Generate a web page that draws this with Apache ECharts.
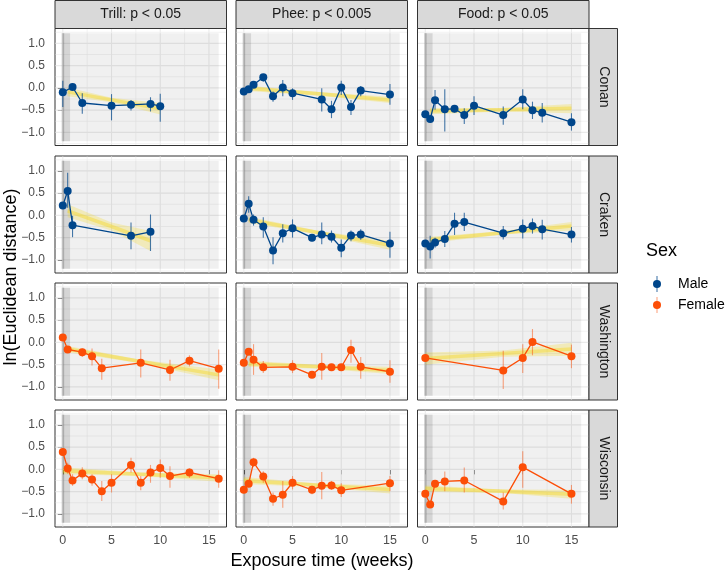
<!DOCTYPE html>
<html><head><meta charset="utf-8">
<script src="https://cdn.jsdelivr.net/npm/echarts@6/dist/echarts.min.js"></script>
<style>html,body{margin:0;padding:0;background:#fff}#chart{width:727px;height:572px}</style>
</head><body><div id="chart"></div>
<script>
// ---------- categories & ticks ----------
const behaviours = ['Trill: p < 0.05', 'Phee: p < 0.005', 'Food: p < 0.05'];
const individuals = ['Conan', 'Craken', 'Washington', 'Wisconsin'];
const individualSex = ['Male', 'Male', 'Female', 'Female'];
const sexLevels = ['Male', 'Female'];
const xTicks = [0, 5, 10, 15];
const xMinorTicks = [2.5, 7.5, 12.5];
const yTicks = [-1, -0.5, 0, 0.5, 1];
const yMinorTicks = [-1.25, -0.75, -0.25, 0.25, 0.75, 1.25];
const exposureWindow = [0, 16, -1.2, 1.23];   // x0, x1, y0, y1 (shaded study period)
const baselineWindow = [0, 0.75];             // baseline band

// ---------- points: [week, mean, lower, upper] ----------
const trillConan = [[0,-0.10,-0.43,0.16],[1,0.02,-0.03,0.06],[2,-0.34,-0.58,-0.12],[5,-0.40,-0.73,-0.14],[7,-0.38,-0.51,-0.27],[9,-0.36,-0.53,-0.21],[10,-0.41,-0.76,-0.13]];
const pheeConan = [[0,-0.08,-0.13,-0.03],[0.5,-0.03,-0.08,0.02],[1,0.07,0.02,0.12],[2,0.24,0.14,0.31],[3,-0.19,-0.31,-0.08],[4,0.01,-0.19,0.18],[5,-0.12,-0.27,-0.01],[8,-0.26,-0.53,-0.01],[9,-0.48,-0.68,-0.29],[10,0.01,-0.16,0.16],[11,-0.43,-0.61,-0.27],[12,-0.06,-0.19,0.04],[15,-0.15,-0.38,0.09]];
const foodConan = [[0,-0.59,-0.64,-0.54],[0.5,-0.70,-0.75,-0.65],[1,-0.28,-0.49,-0.05],[2,-0.48,-0.98,-0.03],[3,-0.47,-0.55,-0.40],[4,-0.61,-0.81,-0.46],[5,-0.40,-0.61,-0.19],[8,-0.61,-0.83,-0.42],[10,-0.26,-0.48,-0.03],[11,-0.50,-0.70,-0.31],[12,-0.56,-0.78,-0.34],[15,-0.77,-0.96,-0.57]];
const trillCraken = [[0,0.22,0.17,0.27],[0.5,0.55,0.17,0.96],[1,-0.22,-0.49,-0.01],[7,-0.46,-0.76,-0.16],[9,-0.37,-0.80,0.02]];
const pheeCraken = [[0,-0.07,-0.12,-0.02],[0.5,0.26,0.06,0.43],[1,-0.10,-0.23,0.02],[2,-0.25,-0.50,-0.04],[3,-0.79,-1.10,-0.49],[4,-0.40,-0.61,-0.20],[5,-0.29,-0.50,-0.09],[7,-0.50,-0.58,-0.43],[8,-0.43,-0.65,-0.16],[9,-0.48,-0.61,-0.34],[10,-0.73,-0.94,-0.54],[11,-0.45,-0.58,-0.34],[12,-0.43,-0.55,-0.31],[15,-0.63,-0.95,-0.37]];
const foodCraken = [[0,-0.63,-0.68,-0.58],[0.5,-0.70,-0.97,-0.46],[1,-0.61,-0.73,-0.50],[2,-0.53,-0.71,-0.35],[3,-0.19,-0.44,0.06],[4,-0.15,-0.35,0.06],[8,-0.40,-0.54,-0.24],[10,-0.30,-0.52,-0.09],[11,-0.24,-0.41,-0.07],[12,-0.31,-0.54,-0.10],[15,-0.43,-0.61,-0.26]];
const trillWashington = [[0,0.11,0.06,0.16],[0.5,-0.16,-0.21,-0.11],[2,-0.22,-0.33,-0.14],[3,-0.31,-0.52,-0.14],[4,-0.58,-0.84,-0.37],[8,-0.46,-0.79,-0.16],[11,-0.62,-0.86,-0.39],[13,-0.41,-0.54,-0.29],[16,-0.59,-1.04,-0.16]];
const pheeWashington = [[0,-0.46,-0.51,-0.41],[0.5,-0.21,-0.26,-0.16],[1,-0.39,-0.73,-0.04],[2,-0.56,-0.69,-0.42],[5,-0.55,-0.69,-0.40],[7,-0.73,-0.80,-0.66],[8,-0.55,-0.84,-0.24],[9,-0.56,-0.61,-0.51],[10,-0.56,-0.61,-0.51],[11,-0.17,-0.46,0.06],[12,-0.55,-0.82,-0.33],[15,-0.66,-0.91,-0.40]];
const foodWashington = [[0,-0.35,-0.40,-0.30],[8,-0.63,-1.05,-0.19],[10,-0.35,-0.69,-0.04],[11,0.01,-0.29,0.30],[15,-0.31,-0.58,-0.05]];
const trillWisconsin = [[0,0.39,0.34,0.44],[0.5,0.02,-0.10,0.15],[1,-0.25,-0.37,-0.11],[2,-0.09,-0.22,0.05],[3,-0.23,-0.37,-0.11],[4,-0.49,-0.71,-0.26],[5,-0.30,-0.52,-0.11],[7,0.10,-0.07,0.26],[8,-0.30,-0.47,-0.15],[9,-0.07,-0.30,0.10],[10,0.03,-0.19,0.22],[11,-0.15,-0.41,0.07],[13,-0.07,-0.19,0.02],[16,-0.21,-0.41,-0.02]];
const pheeWisconsin = [[0,-0.46,-0.51,-0.41],[0.5,-0.32,-0.37,-0.27],[1,0.16,0.05,0.26],[2,-0.16,-0.30,-0.04],[3,-0.66,-0.82,-0.52],[4,-0.57,-0.86,-0.26],[5,-0.30,-0.45,-0.15],[7,-0.46,-0.56,-0.37],[8,-0.37,-0.67,-0.06],[9,-0.36,-0.46,-0.26],[10,-0.47,-0.62,-0.31],[15,-0.31,-0.49,-0.15]];
const foodWisconsin = [[0,-0.55,-0.60,-0.50],[0.5,-0.79,-0.84,-0.74],[1,-0.32,-0.40,-0.24],[2,-0.27,-0.49,-0.05],[4,-0.25,-0.52,0.04],[8,-0.72,-0.90,-0.52],[10,0.05,-0.41,0.41],[15,-0.55,-0.77,-0.35]];

// ---------- linear fits: [week, fit, lower, upper] ----------
const trillConanFit = [[0.5,-0.09,-0.19,0.01],[5,-0.27,-0.32,-0.22],[10,-0.47,-0.60,-0.34]];
const pheeConanFit = [[0.5,-0.01,-0.07,0.05],[8,-0.14,-0.18,-0.10],[15,-0.27,-0.34,-0.20]];
const foodConanFit = [[0.5,-0.52,-0.59,-0.45],[8,-0.49,-0.53,-0.45],[15,-0.46,-0.57,-0.36]];
const trillCrakenFit = [[0.5,0.10,-0.04,0.25],[5,-0.25,-0.34,-0.16],[9,-0.57,-0.80,-0.35]];
const pheeCrakenFit = [[0.5,-0.10,-0.17,-0.03],[8,-0.40,-0.44,-0.36],[15,-0.67,-0.77,-0.57]];
const foodCrakenFit = [[0.5,-0.55,-0.62,-0.48],[8,-0.39,-0.43,-0.35],[15,-0.24,-0.34,-0.15]];
const trillWashingtonFit = [[0.5,-0.15,-0.22,-0.08],[8,-0.43,-0.47,-0.39],[16,-0.73,-0.85,-0.61]];
const pheeWashingtonFit = [[0.5,-0.48,-0.55,-0.41],[8,-0.55,-0.59,-0.51],[15,-0.63,-0.71,-0.55]];
const foodWashingtonFit = [[0,-0.36,-0.50,-0.23],[8,-0.25,-0.32,-0.18],[15,-0.15,-0.30,-0.01]];
const trillWisconsinFit = [[0,-0.03,-0.11,0.05],[8,-0.11,-0.15,-0.07],[16,-0.19,-0.28,-0.11]];
const pheeWisconsinFit = [[0,-0.25,-0.33,-0.17],[8,-0.36,-0.40,-0.32],[15,-0.45,-0.54,-0.36]];
const foodWisconsinFit = [[0,-0.43,-0.50,-0.36],[8,-0.49,-0.53,-0.45],[15,-0.56,-0.66,-0.46]];

const panelPoints = [
  [trillConan, pheeConan, foodConan],
  [trillCraken, pheeCraken, foodCraken],
  [trillWashington, pheeWashington, foodWashington],
  [trillWisconsin, pheeWisconsin, foodWisconsin]
];
const panelFits = [
  [trillConanFit, pheeConanFit, foodConanFit],
  [trillCrakenFit, pheeCrakenFit, foodCrakenFit],
  [trillWashingtonFit, pheeWashingtonFit, foodWashingtonFit],
  [trillWisconsinFit, pheeWisconsinFit, foodWisconsinFit]
];

// ---------- styling / layout ----------
const FONT = '"Liberation Sans", Arial, Helvetica, sans-serif';
const sexColor = { Male: '#00468B', Female: '#FC4E07' };
const sexBarColor = { Male: 'rgba(0,70,139,0.72)', Female: 'rgba(252,78,7,0.5)' };
const colLeft = [55, 236, 417.5];
const colWidth = 171.5;
const rowTop = [28.5, 156, 283, 410];
const rowHeight = 117;
const X_MIN = -0.8, X_MAX = 16.8, Y_MIN = -1.295, Y_MAX = 1.335;

function fmtY(v) { return (v < 0 ? '\u2212' : '') + Math.abs(v).toFixed(1); }

function bgRender(params, api) {
  if (params.dataIndex !== 0) return null;
  const cs = params.coordSys;
  const T = cs.y + 0.5, B = cs.y + cs.height - 0.5, L = cs.x + 0.5, R = cs.x + cs.width - 0.5;
  const ch = [];
  const vline = (v, w) => { const p = api.coord([v, 0]); ch.push({ type: 'line', shape: { x1: p[0], y1: T, x2: p[0], y2: B }, style: { stroke: '#ebebeb', lineWidth: w } }); };
  const hline = (v, w) => { const p = api.coord([0, v]); ch.push({ type: 'line', shape: { x1: L, y1: p[1], x2: R, y2: p[1] }, style: { stroke: '#ebebeb', lineWidth: w } }); };
  xMinorTicks.forEach(v => vline(v, 0.6));
  yMinorTicks.forEach(v => hline(v, 0.6));
  xTicks.forEach(v => vline(v, 1.1));
  yTicks.forEach(v => hline(v, 1.1));
  const a = api.coord([exposureWindow[0], exposureWindow[3]]);
  const b = api.coord([exposureWindow[1], exposureWindow[2]]);
  ch.push({ type: 'rect', shape: { x: a[0], y: a[1], width: b[0] - a[0], height: b[1] - a[1] }, style: { fill: 'rgba(0,0,0,0.06)' } });
  const c = api.coord([baselineWindow[0], exposureWindow[3]]);
  const d = api.coord([baselineWindow[1], exposureWindow[2]]);
  ch.push({ type: 'rect', shape: { x: c[0], y: c[1], width: d[0] - c[0], height: d[1] - c[1] }, style: { fill: 'rgba(0,0,0,0.11)' } });
  ch.push({ type: 'rect', shape: { x: c[0] - 1.2, y: c[1], width: 2.6, height: d[1] - c[1] }, style: { fill: 'rgba(0,0,0,0.17)' } });
  return { type: 'group', children: ch };
}

function makeFitRender(fit) {
  return function (params, api) {
    if (params.dataIndex !== 0) return null;
    const upper = fit.map(r => api.coord([r[0], r[3]]));
    const lower = fit.map(r => api.coord([r[0], r[2]])).reverse();
    const mid = fit.map(r => api.coord([r[0], r[1]]));
    return {
      type: 'group', children: [
        { type: 'polygon', shape: { points: upper.concat(lower) }, style: { fill: 'rgba(245,215,30,0.26)' } },
        { type: 'polyline', shape: { points: mid }, style: { stroke: 'rgba(245,215,30,0.42)', lineWidth: 3.5, fill: null } }
      ]
    };
  };
}

function makeBarRender(color) {
  return function (params, api) {
    const lo = api.coord([api.value(0), api.value(2)]);
    const hi = api.coord([api.value(0), api.value(3)]);
    return { type: 'line', shape: { x1: lo[0], y1: lo[1], x2: hi[0], y2: hi[1] }, style: { stroke: color, lineWidth: 1.1 } };
  };
}

const option = {
  animation: false,
  backgroundColor: '#ffffff',
  textStyle: { fontFamily: FONT },
  grid: [], xAxis: [], yAxis: [], series: [], graphic: []
};

for (let r = 0; r < individuals.length; r++) {
  for (let c = 0; c < behaviours.length; c++) {
    const i = r * behaviours.length + c;
    const sex = individualSex[r];
    const pts = panelPoints[r][c];
    const fit = panelFits[r][c];
    option.grid.push({ left: colLeft[c], top: rowTop[r], width: colWidth, height: rowHeight, show: true, borderColor: '#333333', borderWidth: 1, backgroundColor: '#ffffff' });
    const bottom = r === individuals.length - 1;
    const left = c === 0;
    option.xAxis.push({
      type: 'value', gridIndex: i, min: X_MIN, max: X_MAX,
      axisLine: { show: false }, splitLine: { show: false },
      axisTick: { show: bottom, customValues: xTicks, length: 5, lineStyle: { color: '#333333', width: 1 } },
      axisLabel: { show: bottom, customValues: xTicks, color: '#4d4d4d', fontSize: 12.5, margin: 7.5, fontFamily: FONT }
    });
    option.yAxis.push({
      type: 'value', gridIndex: i, min: Y_MIN, max: Y_MAX,
      axisLine: { show: false }, splitLine: { show: false },
      axisTick: { show: left, customValues: yTicks, length: 5, lineStyle: { color: '#333333', width: 1 } },
      axisLabel: { show: left, customValues: yTicks, color: '#4d4d4d', fontSize: 12, margin: 10, fontFamily: FONT, formatter: fmtY }
    });
    option.series.push({
      type: 'custom', xAxisIndex: i, yAxisIndex: i, z: 1, silent: true,
      data: [[0, 0]], renderItem: bgRender
    });
    option.series.push({
      type: 'custom', xAxisIndex: i, yAxisIndex: i, z: 2, silent: true,
      data: fit, renderItem: makeFitRender(fit)
    });
    option.series.push({
      type: 'custom', xAxisIndex: i, yAxisIndex: i, z: 3, silent: true,
      data: pts, renderItem: makeBarRender(sexBarColor[sex])
    });
    option.series.push({
      type: 'line', xAxisIndex: i, yAxisIndex: i, z: 4, silent: true,
      data: pts.map(p => [p[0], p[1]]),
      symbol: 'circle', symbolSize: 8, showSymbol: true,
      itemStyle: { color: sexColor[sex] },
      lineStyle: { color: sexColor[sex], width: 1.3 }
    });
  }
}

// strips
behaviours.forEach((b, c) => {
  option.graphic.push({ type: 'rect', z: 10, shape: { x: colLeft[c], y: 0.5, width: colWidth, height: 28 }, style: { fill: '#d9d9d9', stroke: '#333333', lineWidth: 1 } });
  option.graphic.push({ type: 'text', z: 11, x: colLeft[c] + colWidth / 2, y: 14.5, style: { text: b, fontSize: 14, fontFamily: FONT, fill: '#1a1a1a', align: 'center', verticalAlign: 'middle' } });
});
const stripX = colLeft[2] + colWidth;
individuals.forEach((nm, r) => {
  option.graphic.push({ type: 'rect', z: 10, shape: { x: stripX, y: rowTop[r], width: 28.5, height: rowHeight }, style: { fill: '#d9d9d9', stroke: '#333333', lineWidth: 1 } });
  option.graphic.push({ type: 'text', z: 11, x: stripX + 14.5, y: rowTop[r] + rowHeight / 2, rotation: -Math.PI / 2, style: { text: nm, fontSize: 14, fontFamily: FONT, fill: '#1a1a1a', align: 'center', verticalAlign: 'middle' } });
});

// axis titles
option.graphic.push({ type: 'text', x: (colLeft[0] + stripX) / 2, y: 561, style: { text: 'Exposure time (weeks)', fontSize: 18, fontFamily: FONT, fill: '#000', align: 'center', verticalAlign: 'middle' } });
option.graphic.push({ type: 'text', x: 11, y: 277, rotation: Math.PI / 2, style: { text: 'ln(Euclidean distance)', fontSize: 18, fontFamily: FONT, fill: '#000', align: 'center', verticalAlign: 'middle' } });

// legend
option.graphic.push({ type: 'text', x: 646, y: 251, style: { text: 'Sex', fontSize: 18, fontFamily: FONT, fill: '#000', align: 'left', verticalAlign: 'middle' } });
sexLevels.forEach((s, k) => {
  const cy = 284 + k * 21;
  option.graphic.push({ type: 'line', shape: { x1: 657, y1: cy - 8, x2: 657, y2: cy + 8 }, style: { stroke: sexBarColor[s], lineWidth: 1.1 } });
  option.graphic.push({ type: 'circle', shape: { cx: 657, cy: cy, r: 4 }, style: { fill: sexColor[s] } });
  option.graphic.push({ type: 'text', x: 678, y: cy, style: { text: s, fontSize: 14, fontFamily: FONT, fill: '#000', align: 'left', verticalAlign: 'middle' } });
});

const chart = echarts.init(document.getElementById('chart'), null, { renderer: 'canvas', width: 727, height: 572 });
chart.setOption(option);
</script></body></html>
